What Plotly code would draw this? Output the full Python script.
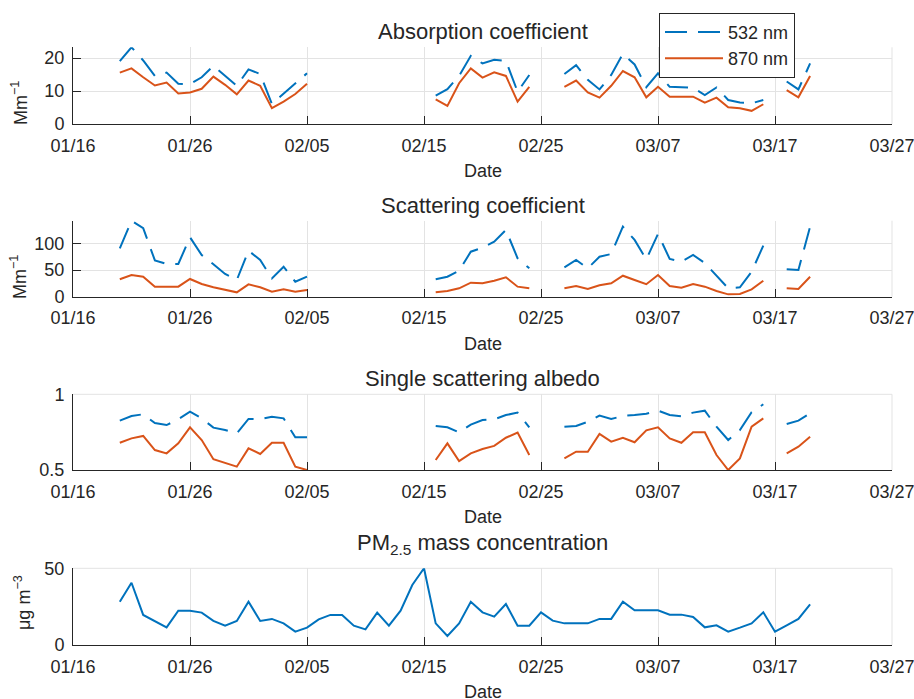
import pandas as pd
import plotly.graph_objects as go

N = None
dates = pd.date_range("2018-01-20", "2018-03-20", freq="D").strftime("%Y-%m-%d").tolist()

abs_532 = [19.1, 23.3, 19.3, 14.6, 15.6, 12.2, 12.1, 14.2, 17.7, 14.7, 11.6, 16.6,
           15.2, 6.1, 9.3, 12.3, 15.4, N, N, N, N, N, N, N, N, N, N,
           8.6, 10.6, 14.6, 20.7, 18.4, 19.5, 19.2, 9.8, 14.9, N, N, 15.2, 17.9,
           13.4, 10.5, 14.9, 21.3, 18.1, 11.2, 15.4, 11.3, 11.2, 11.0, 8.8, 11.1, 7.3, 6.5, 6.3, 7.3,
           N, 12.9, 10.5, 18.4]
abs_870 = [15.6, 16.9, 14.2, 11.7, 12.6, 9.3, 9.6, 10.7, 14.4, 11.9, 9.0, 13.2,
           11.6, 4.8, 6.8, 9.1, 12.2, N, N, N, N, N, N, N, N, N, N,
           7.5, 5.5, 12.4, 16.9, 14.1, 15.7, 14.6, 6.8, 11.3, N, N, 11.3, 13.2,
           9.6, 8.0, 11.6, 16.1, 14.2, 8.1, 11.3, 8.3, 8.3, 8.3, 6.5, 8.0, 5.1, 4.8, 4.0, 6.0,
           N, 10.3, 8.1, 14.6]
sca_532 = [90.8, 142.5, 128.3, 68.0, 61.3, 61.3, 111.5, 78.2, 61.0, 42.6, 31.3, 86.3,
           68.8, 34.4, 56.3, 28.1, 37.5, N, N, N, N, N, N, N, N, N, N,
           32.6, 37.5, 48.8, 84.4, 91.9, 103.2, 125.1, 72.0, 53.2, N, N, 55.1, 68.8,
           53.2, 75.0, 80.0, 131.3, 106.4, 70.0, 117.6, 70.7, 65.7, 78.2, 63.0, 40.0, 15.7, 17.6, 46.9, 95.7,
           N, 51.4, 50.1, 131.3]
sca_870 = [32.6, 40.7, 37.5, 18.8, 18.8, 18.8, 33.2, 23.8, 17.6, 12.6, 8.2, 23.2,
           17.6, 9.4, 13.8, 9.4, 12.6, N, N, N, N, N, N, N, N, N, N,
           8.2, 10.7, 15.7, 26.3, 25.1, 30.0, 36.4, 18.8, 15.7, N, N, 15.7, 20.1,
           14.4, 21.4, 25.1, 39.4, 31.3, 23.5, 40.7, 20.1, 16.9, 23.8, 18.8, 10.7, 4.4, 5.0, 13.8, 30.0,
           N, 15.7, 14.4, 37.5]
ssa_532 = [0.826, 0.857, 0.868, 0.81, 0.797, 0.835, 0.885, 0.841, 0.780, 0.764, 0.742, 0.837,
           0.835, 0.852, 0.841, 0.716, 0.716, N, N, N, N, N, N, N, N, N, N,
           0.791, 0.782, 0.749, 0.800, 0.830, 0.835, 0.863, 0.879, 0.782, N, N, 0.786, 0.791,
           0.819, 0.859, 0.837, 0.857, 0.863, 0.872, 0.892, 0.863, 0.855, 0.879, 0.892, 0.786, 0.698, 0.764, 0.881, 0.934,
           N, 0.804, 0.826, 0.874]
ssa_870 = [0.680, 0.709, 0.725, 0.632, 0.610, 0.676, 0.782, 0.698, 0.571, 0.544, 0.522, 0.643,
           0.606, 0.680, 0.680, 0.522, 0.500, N, N, N, N, N, N, N, N, N, N,
           0.566, 0.676, 0.559, 0.610, 0.639, 0.659, 0.713, 0.747, 0.599, N, N, 0.577, 0.621,
           0.621, 0.738, 0.687, 0.713, 0.683, 0.762, 0.782, 0.709, 0.680, 0.749, 0.749, 0.599, 0.500, 0.577, 0.786, 0.841,
           N, 0.610, 0.654, 0.720]
pm25 = [28.2, 40.6, 19.6, 15.7, 11.5, 22.4, 22.4, 21.1, 15.7, 12.6, 15.7, 28.2,
        15.7, 17.0, 14.1, 8.7, 11.3, 16.7, 19.6, 19.6, 12.6, 10.2, 21.1, 12.6, 22.4, 39.1, 50.0,
        14.1, 5.9, 14.1, 28.2, 21.3, 18.5, 26.7, 12.6, 12.6, 21.3, 15.9, 14.1, 14.1,
        14.1, 17.0, 17.0, 28.2, 22.6, 22.6, 22.6, 19.8, 19.8, 18.3, 11.5, 12.8, 8.7, 11.3, 14.1, 21.3,
        8.7, 12.8, 17.0, 26.5]

titles = ["Absorption coefficient", "Scattering coefficient", "Single scattering albedo",
          "PM<sub>2.5</sub> mass concentration"]
ylabels = ["Mm<sup>−1</sup>", "Mm<sup>−1</sup>", "", "μg m<sup>−3</sup>"]
xtick_start, xtick_end = "2018-01-16", "2018-03-27"

BLUE = "#0072BD"
ORANGE = "#D95319"
TXT = "#262626"
GRID = "#e3e3e3"
FONT = "Liberation Sans, Arial, Helvetica, sans-serif"

W, H = 914, 699
L, R = 73, 892


def px(p):
    return (p - L) / (R - L)


def py(p):
    return 1 - p / H


panels = [(47.3, 124.0), (220.7, 296.7), (394.3, 470.0), (568.3, 645.0)]
title_y = [31, 205, 378, 544]
ylab_y = [103, 277, None, 603]
ylab_x = [19, 19, None, 22]

fig = go.Figure()
dash = "22px,11px"
pairs = [(abs_532, abs_870), (sca_532, sca_870), (ssa_532, ssa_870)]
for i, (b, o) in enumerate(pairs):
    ax = "" if i == 0 else str(i + 1)
    fig.add_trace(go.Scatter(x=dates, y=b, mode="lines", name="532 nm",
                             line=dict(color=BLUE, width=2, dash=dash),
                             xaxis="x" + ax, yaxis="y" + ax, showlegend=(i == 0),
                             connectgaps=False))
    fig.add_trace(go.Scatter(x=dates, y=o, mode="lines", name="870 nm",
                             line=dict(color=ORANGE, width=2),
                             xaxis="x" + ax, yaxis="y" + ax, showlegend=(i == 0),
                             connectgaps=False))
fig.add_trace(go.Scatter(x=dates, y=pm25, mode="lines", name="PM2.5",
                         line=dict(color=BLUE, width=2), xaxis="x4", yaxis="y4",
                         showlegend=False))

yranges = [[0, max(v for v in abs_532 if v is not None)],
           [0, max(v for v in sca_532 if v is not None)],
           [0.5, 1.0],
           [0, max(pm25)]]
ytickvals = [[0, 10, 20], [0, 50, 100], [0.5, 1], [0, 50]]
yticktext = [["0", "10", "20"], ["0", "50", "100"], ["0.5", "1"], ["0", "50"]]

layout = dict(
    width=W, height=H,
    margin=dict(l=L, r=W - R, t=0, b=0, autoexpand=False),
    paper_bgcolor="white", plot_bgcolor="white",
    font=dict(family=FONT, size=18, color=TXT),
    legend=dict(x=px(659), y=py(12.7), xanchor="left", yanchor="top",
                bgcolor="white", bordercolor=TXT, borderwidth=1,
                font=dict(size=18, color=TXT), itemwidth=58, tracegroupgap=0),
    annotations=[],
    shapes=[],
)
for i, (top, bot) in enumerate(panels):
    ax = "" if i == 0 else str(i + 1)
    layout["xaxis" + ax] = dict(
        type="date", domain=[0, 1], anchor="y" + ax,
        range=[xtick_start, xtick_end], tick0=xtick_start, dtick=864000000,
        tickformat="%m/%d", ticks="inside", ticklen=8, tickcolor=TXT, tickwidth=1,
        showline=True, linecolor=TXT, linewidth=1, showgrid=True, gridcolor=GRID,
        tickfont=dict(size=18, color=TXT), zeroline=False, fixedrange=True,
        ticklabeloverflow="allow", ticklabelstandoff=5,
    )
    layout["yaxis" + ax] = dict(
        domain=[py(bot), py(top)], anchor="x" + ax, range=yranges[i],
        tickvals=ytickvals[i], ticktext=yticktext[i],
        ticks="inside", ticklen=8, tickcolor=TXT, tickwidth=1,
        showline=True, linecolor=TXT, linewidth=1, showgrid=True, gridcolor=GRID,
        tickfont=dict(size=18, color=TXT), zeroline=False, fixedrange=True,
        ticklabeloverflow="allow", ticklabelstandoff=4,
    )
    # grid line at the right end of the date axis (plotly clips end gridlines)
    layout["shapes"].append(dict(
        type="line", xref="x" + ax + " domain", yref="y" + ax + " domain",
        x0=1, x1=1, y0=0, y1=1, layer="below", line=dict(color=GRID, width=1)))
    # grid line at the top when the top is a tick value
    if ytickvals[i][-1] == yranges[i][1]:
        layout["shapes"].append(dict(
            type="line", xref="x" + ax + " domain", yref="y" + ax + " domain",
            x0=0, x1=1, y0=1, y1=1, layer="below", line=dict(color=GRID, width=1)))
    layout["annotations"].append(dict(
        text=titles[i], x=0.5, y=py(title_y[i]), xref="paper", yref="paper",
        xanchor="center", yanchor="middle", showarrow=False,
        font=dict(size=22, color=TXT, family=FONT)))
    layout["annotations"].append(dict(
        text="Date", x=0.5, y=py(bot + 47.3), xref="paper", yref="paper",
        xanchor="center", yanchor="middle", showarrow=False,
        font=dict(size=18, color=TXT, family=FONT)))
    if ylabels[i]:
        layout["annotations"].append(dict(
            text=ylabels[i], x=px(ylab_x[i]), y=py(ylab_y[i]), xref="paper", yref="paper",
            xanchor="center", yanchor="middle", showarrow=False, textangle=-90,
            font=dict(size=18, color=TXT, family=FONT)))

fig.update_layout(**layout)
fig.write_html("out.html")
